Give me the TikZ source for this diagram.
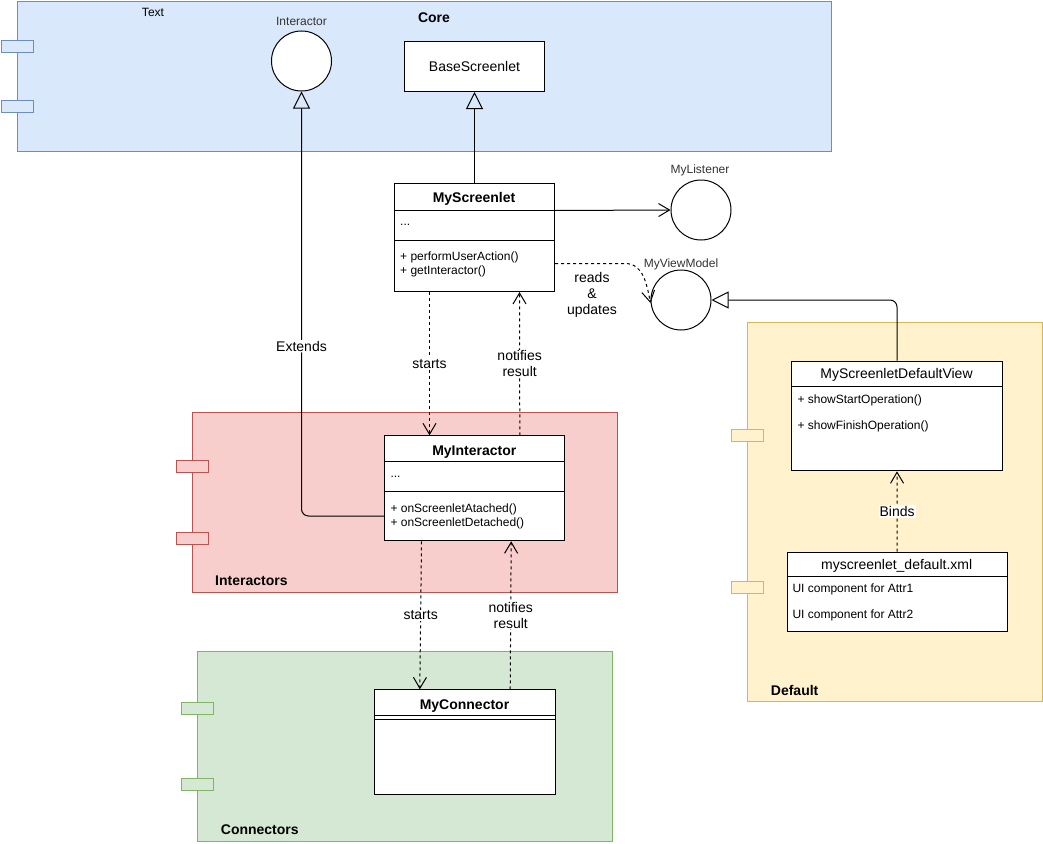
\documentclass[tikz,border=0pt]{standalone}
\usepackage{fontspec}
\setmainfont{Liberation Sans}
\usetikzlibrary{arrows.meta}
\definecolor{blueF}{HTML}{DAE8FC}\definecolor{blueD}{HTML}{6C8EBF}
\definecolor{redF}{HTML}{F8CECC}\definecolor{redD}{HTML}{B85450}
\definecolor{greenF}{HTML}{D5E8D4}\definecolor{greenD}{HTML}{82B366}
\definecolor{yelF}{HTML}{FFF2CC}\definecolor{yelD}{HTML}{D6B656}
\tikzset{
  fbase/.style={font=\fontsize{14}{16}\selectfont},
  fsmall/.style={font=\fontsize{12}{14}\selectfont},
  fbold/.style={font=\fontsize{14}{16}\selectfont\bfseries},
  pkg/.style 2 args={draw=#1, fill=#2, line width=1pt, inner sep=0pt, anchor=north west},
  tab/.style 2 args={draw=#1, fill=#2, line width=1pt, inner sep=0pt, minimum width=32pt, minimum height=12pt},
  cls/.style={draw=black, fill=white, line width=1pt, inner sep=0pt, anchor=north west},
  iface/.style={circle, draw=black, fill=white, line width=1pt, inner sep=0pt, minimum size=60pt},
  txt/.style={inner sep=0pt, fsmall, anchor=west},
  inh/.style={line width=1pt, -{Triangle[open, length=17pt, width=17pt, line width=1pt]}},
  opn/.style={line width=1pt, -{Straight Barb[length=11pt, width=13pt, line width=1pt]}},
  dopn/.style={opn, dash pattern=on 3pt off 3pt},
  lbl/.style={fbase, fill=white, inner sep=1pt, align=center},
}
\begin{document}
\begin{tikzpicture}[x=1pt,y=-1pt]
\useasboundingbox (0,0) rectangle (1043,843);

% ---------- packages ----------
\node[pkg={blueD}{blueF}, minimum width=813.7pt, minimum height=149.7pt] (core) at (17.3,1.3) {};
\node[tab={blueD}{blueF}] (coreT1) at (17.3,46.3) {};
\node[tab={blueD}{blueF}] (coreT2) at (17.3,106.3) {};
\node[fsmall, inner sep=0pt] (textlbl) at (153,12) {Text};
\node[fbold, inner sep=0pt] (corelbl) at (434,18) {Core};

\node[pkg={redD}{redF}, minimum width=424.4pt, minimum height=180pt] (intpkg) at (192.3,412.3) {};
\node[tab={redD}{redF}] (intT1) at (192.3,466.3) {};
\node[tab={redD}{redF}] (intT2) at (192.3,538.3) {};
\node[fbold, inner sep=0pt, anchor=west] (intlbl) at (215,581) {Interactors};

\node[pkg={greenD}{greenF}, minimum width=414.4pt, minimum height=190pt] (conpkg) at (197.3,651.3) {};
\node[tab={greenD}{greenF}] (conT1) at (197.5,708.3) {};
\node[tab={greenD}{greenF}] (conT2) at (197.5,784.3) {};
\node[fbold, inner sep=0pt, anchor=west] (conlbl) at (220.7,830) {Connectors};

\node[pkg={yelD}{yelF}, minimum width=294.4pt, minimum height=379.6pt] (defpkg) at (747.3,321.7) {};
\node[tab={yelD}{yelF}] (defT1) at (747.5,435.3) {};
\node[tab={yelD}{yelF}] (defT2) at (747.5,587.5) {};
\node[fbold, inner sep=0pt, anchor=west] (deflbl) at (770.7,690) {Default};

% ---------- interfaces ----------
\node[iface] (iint) at (301.5,61) {};
\node[fsmall, inner sep=0pt, text=black!80] (iintlbl) at (301.5,21) {Interactor};
\node[iface] (ilis) at (701,210) {};
\node[fsmall, inner sep=0pt, text=black!80] (ilislbl) at (700,170) {MyListener};
\node[iface] (ivm) at (681,300) {};
\node[fsmall, inner sep=0pt, text=black!80] (ivmlbl) at (681,264) {MyViewModel};

% ---------- classes ----------
\node[cls, minimum width=140pt, minimum height=50pt] (bs) at (404,41) {};
\node[fbase, inner sep=0pt] (bst) at (bs.center) {BaseScreenlet};

\node[cls, minimum width=160pt, minimum height=108pt] (ms) at (394,183) {};
\draw[line width=1pt] (394,210) -- (554,210) (394,240) -- (554,240);
\node[fbold, inner sep=0pt] (mst) at (474,198.5) {MyScreenlet};
\node[txt] (msa) at (400,225) {...};
\node[txt] (msm1) at (400,257) {+ performUserAction()};
\node[txt] (msm2) at (400,271) {+ getInteractor()};

\node[cls, minimum width=180pt, minimum height=105pt] (mi) at (384.3,435.3) {};
\draw[line width=1pt] (384.3,461.3) -- (564.3,461.3) (384.3,491.3) -- (564.3,491.3);
\node[fbold, inner sep=0pt] (mit) at (474.3,452) {MyInteractor};
\node[txt] (mia) at (390.3,477) {...};
\node[txt] (mim1) at (390.3,509) {+ onScreenletAtached()};
\node[txt] (mim2) at (390.3,523) {+ onScreenletDetached()};

\node[cls, minimum width=180.4pt, minimum height=105pt] (mc) at (374.3,689.3) {};
\draw[line width=1pt] (374.3,715.3) -- (554.7,715.3) (374.3,719.3) -- (554.7,719.3);
\node[fbold, inner sep=0pt] (mct) at (464.5,706) {MyConnector};

\node[cls, minimum width=210.4pt, minimum height=109.6pt] (dv) at (791.3,360.7) {};
\draw[line width=1pt] (791.3,386.7) -- (1001.7,386.7);
\node[fbase, inner sep=0pt] (dvt) at (896.5,375) {MyScreenletDefaultView};
\node[txt] (dvm1) at (797.3,400) {+ showStartOperation()};
\node[txt] (dvm2) at (797.3,426) {+ showFinishOperation()};

\node[cls, minimum width=220pt, minimum height=79.6pt] (xml) at (786.7,551.7) {};
\draw[line width=1pt] (786.7,576.3) -- (1006.7,576.3);
\node[fbase, inner sep=0pt] (xmlt) at (896.7,566) {myscreenlet\_default.xml};
\node[txt] (xml1) at (792.3,589.7) {UI component for Attr1};
\node[txt] (xml2) at (792.3,615.7) {UI component for Attr2};

% ---------- connectors ----------
\draw[inh] (ms.north) -- (bs.south);
\draw[inh, rounded corners=7pt] ([yshift=-27.7pt]mi.west) -| node[pos=0.7, lbl] {Extends} (iint.south);
\draw[opn] ([yshift=27pt]ms.east) -- (ilis.west);
\draw[dopn] ([yshift=-26pt]ms.east) -- ++(70,0) .. controls +(18,0) and +(-4,-20) .. ([yshift=-3pt]ivm.west);
\node[lbl, fill=none] (rulbl) at (592,294.5) {reads\\\&\\updates};
\draw[inh, rounded corners=7pt] (dv.north) |- (ivm.east);

\draw[dopn] ([xshift=-45pt]ms.south) -- node[lbl] {starts} ([xshift=-45.3pt]mi.north);
\draw[dopn] ([xshift=45pt]mi.north) -- node[lbl] {notifies\\result} ([xshift=45pt]ms.south);

\draw[dopn] ([xshift=-53.3pt]mi.south) -- node[lbl] {starts} ([xshift=-45.2pt]mc.north);
\draw[dopn] ([xshift=45.2pt]mc.north) -- node[lbl] {notifies\\result} ([xshift=36.4pt]mi.south);

\draw[dopn] (xml.north) -- node[lbl] {Binds} (dv.south);
\end{tikzpicture}
\end{document}
